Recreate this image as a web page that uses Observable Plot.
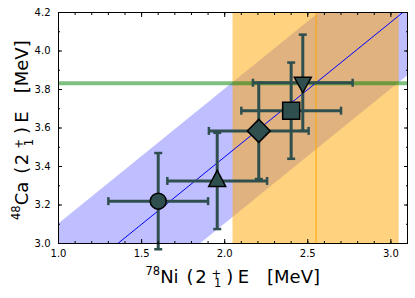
<!DOCTYPE html>
<html><head><meta charset="utf-8">
<script src="https://cdn.jsdelivr.net/npm/d3@7"></script>
<script src="https://cdn.jsdelivr.net/npm/@observablehq/plot@0.6"></script>
<style>
body{margin:0;background:#fff}
svg{font-family:"DejaVu Sans",sans-serif}
</style>
</head><body><div id="chart"></div>
<script>
// ---- data ----
const markerNames = ["circle", "triangleUp", "diamond", "square", "triangleDown"];
const ni78E = [1.60, 1.955, 2.205, 2.40, 2.47];     // x: 78Ni 2+ energy (MeV)
const ca48E = [3.22, 3.325, 3.585, 3.69, 3.835];    // y: 48Ca 2+ energy (MeV)
const ni78Err = [0.30, 0.30, 0.30, 0.30, 0.30];
const ca48Err = [0.25, 0.25, 0.25, 0.25, 0.25];
const fitX = [1.0, 3.1];
const fitY = [2.75, 4.22];
const fitBand = 0.35;
const ni78Exp = 2.55, ni78ExpErr = 0.50;
const ca48Exp = 3.832;
const xTicks = [1.0, 1.5, 2.0, 2.5, 3.0];
const yTicks = [3.0, 3.2, 3.4, 3.6, 3.8, 4.0, 4.2];
const xMinor = d3.range(10, 32).map(v => v / 10);
const yMinor = d3.range(30, 43).map(v => v / 10);

const pts = markerNames.map((n, i) => ({name: n, x: ni78E[i], y: ca48E[i], xe: ni78Err[i], ye: ca48Err[i]}));
const fit = fitX.map((x, i) => ({x, y: fitY[i]}));

// ---- symbols ----
const sym = {
  circle: {draw(c) { c.moveTo(8, 0); c.arc(0, 0, 8, 0, 2 * Math.PI); }},
  triangleUp: {draw(c) { c.moveTo(0, -10.5); c.lineTo(8.5, 5.5); c.lineTo(-8.5, 5.5); c.closePath(); }},
  diamond: {draw(c) { c.moveTo(0, -11.5); c.lineTo(11.5, 0); c.lineTo(0, 11.5); c.lineTo(-11.5, 0); c.closePath(); }},
  square: {draw(c) { c.rect(-8.5, -8.5, 17, 17); }},
  triangleDown: {draw(c) { c.moveTo(0, 10); c.lineTo(8.5, -5.5); c.lineTo(-8.5, -5.5); c.closePath(); }}
};
const vcap = {draw(c) { c.moveTo(0, -4); c.lineTo(0, 4); }};
const hcap = {draw(c) { c.moveTo(-4, 0); c.lineTo(4, 0); }};

const col = "#2f4f4f";

const marks = [
  Plot.areaY(fit, {x: "x", y1: d => d.y - fitBand, y2: d => d.y + fitBand, fill: "blue", fillOpacity: 0.25, clip: true}),
  Plot.rect([{x1: ni78Exp - ni78ExpErr, x2: ni78Exp + ni78ExpErr}], {x1: "x1", x2: "x2", fill: "orange", fillOpacity: 0.5}),
  Plot.ruleX([ni78Exp], {stroke: "orange", strokeWidth: 1}),
  Plot.ruleY([ca48Exp], {stroke: "green", strokeOpacity: 0.5, strokeWidth: 4}),
  Plot.line(fit, {x: "x", y: "y", stroke: "blue", strokeWidth: 1, clip: true}),
  Plot.ruleY(pts, {y: "y", x1: d => d.x - d.xe, x2: d => d.x + d.xe, stroke: col, strokeWidth: 3}),
  Plot.ruleX(pts, {x: "x", y1: d => d.y - d.ye, y2: d => d.y + d.ye, stroke: col, strokeWidth: 3}),
  Plot.dot(pts, {x: d => d.x - d.xe, y: "y", symbol: vcap, stroke: col, strokeWidth: 2.5, fill: "none"}),
  Plot.dot(pts, {x: d => d.x + d.xe, y: "y", symbol: vcap, stroke: col, strokeWidth: 2.5, fill: "none"}),
  Plot.dot(pts, {x: "x", y: d => d.y - d.ye, symbol: hcap, stroke: col, strokeWidth: 2.5, fill: "none"}),
  Plot.dot(pts, {x: "x", y: d => d.y + d.ye, symbol: hcap, stroke: col, strokeWidth: 2.5, fill: "none"}),
  ...pts.map(p => Plot.dot([p], {x: "x", y: "y", symbol: sym[p.name], fill: col, stroke: "black", strokeWidth: 1.5})),
  Plot.frame({stroke: "black", strokeWidth: 1}),
  // ticks inside, all sides
  Plot.axisX(xMinor, {anchor: "bottom", tickSize: -2, fill: "none", label: null}),
  Plot.axisX(xMinor, {anchor: "top", tickSize: -2, fill: "none", label: null}),
  Plot.axisX(xTicks, {anchor: "bottom", tickSize: -4, fill: "none", label: null}),
  Plot.axisX(xTicks, {anchor: "top", tickSize: -4, fill: "none", label: null}),
  Plot.axisY(yMinor, {anchor: "left", tickSize: -2, fill: "none", label: null}),
  Plot.axisY(yMinor, {anchor: "right", tickSize: -2, fill: "none", label: null}),
  Plot.axisY(yTicks, {anchor: "left", tickSize: -4, fill: "none", label: null}),
  Plot.axisY(yTicks, {anchor: "right", tickSize: -4, fill: "none", label: null}),
  Plot.axisX(xTicks, {anchor: "bottom", tickSize: 0, tickPadding: 6, tickFormat: d => d.toFixed(1), fontSize: 10, fill: "black", label: null}),
  Plot.axisY(yTicks, {anchor: "left", tickSize: 0, tickPadding: 8, tickFormat: d => d.toFixed(1), fontSize: 10, fill: "black", label: null})
];

const chart = Plot.plot({
  width: 415, height: 298,
  marginLeft: 58, marginRight: 8, marginTop: 12, marginBottom: 55,
  x: {domain: [1.0, 3.1], label: null},
  y: {domain: [3.0, 4.2], label: null},
  style: {fontFamily: "DejaVu Sans, sans-serif", background: "white", color: "black"},
  marks
});

const svg = d3.select(chart);
function richLabel(g, pre, base) {
  const t = g.append("text").attr("text-anchor", "start").attr("font-size", 18).attr("fill", "black");
  t.append("tspan").attr("font-size", 11.5).attr("dy", -7.7).text(pre);
  t.append("tspan").attr("dy", 7.7).text(base);
  t.append("tspan").attr("dx", 8).text("(");
  t.append("tspan").attr("dx", 1.5).text("2");
  t.append("tspan").attr("font-size", 11.5).attr("dx", 5).attr("dy", -5).text("+");
  t.append("tspan").attr("font-size", 11.5).attr("dx", -7.2).attr("dy", 9.7).text("1");
  t.append("tspan").attr("dx", 5).attr("dy", -4.7).text(")");
  t.append("tspan").attr("dx", 4.3).text("E");
  t.append("tspan").attr("dx", 18).text("[MeV]");
  return t;
}
const xl = svg.append("g").attr("transform", "translate(145.5,282.5)");
richLabel(xl, "78", "Ni");
const yl = svg.append("g").attr("transform", "translate(28,220) rotate(-90)");
richLabel(yl, "48", "Ca");

document.getElementById("chart").append(chart);
</script>
</body></html>
